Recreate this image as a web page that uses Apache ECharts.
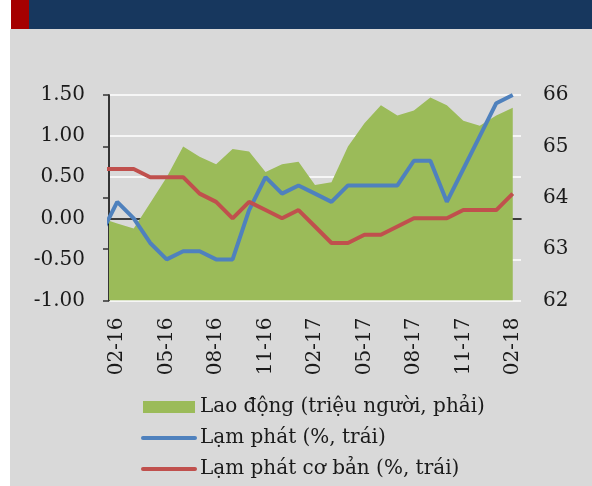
<!DOCTYPE html>
<html>
<head>
<meta charset="utf-8">
<script src="https://cdn.jsdelivr.net/npm/echarts@6/dist/echarts.min.js"></script>
<style>
  html, body { margin: 0; padding: 0; background: #fff; }
  #bg { position: absolute; left: 10px; top: 29px; width: 582px; height: 457px; background: #D9D9D9; }
  #head { position: absolute; left: 11px; top: 0; width: 581px; height: 29px; background: #17375E; }
  #mark { position: absolute; left: 11px; top: 0; width: 18px; height: 29px; background: #A50000; }
  #main { position: absolute; left: 0; top: 0; width: 592px; height: 486px; }
</style>
</head>
<body>
<div id="bg"></div>
<div id="head"></div>
<div id="mark"></div>
<div id="main"></div>
<script>
// months 01-16 .. 02-18 (first one sits half outside the plot, like the original)
var months = ['01-16', '02-16', '03-16', '04-16', '05-16', '06-16', '07-16', '08-16', '09-16',
  '10-16', '11-16', '12-16', '01-17', '02-17', '03-17', '04-17', '05-17', '06-17', '07-17',
  '08-17', '09-17', '10-17', '11-17', '12-17', '01-18', '02-18']
var laoDong = [63.6, 63.5, 63.4, 63.9, 64.4, 65.0, 64.8, 64.65, 64.95, 64.9, 64.5, 64.65, 64.7,
  64.25, 64.3, 65.0, 65.45, 65.8, 65.6, 65.7, 65.95, 65.8, 65.5, 65.4, 65.6, 65.75]
var lamPhat = [-0.2, 0.2, 0.0, -0.3, -0.5, -0.4, -0.4, -0.5, -0.5, 0.1, 0.5, 0.3, 0.4,
  0.3, 0.2, 0.4, 0.4, 0.4, 0.4, 0.7, 0.7, 0.2, 0.6, 1.0, 1.4, 1.5]
var lamPhatCoBan = [0.6, 0.6, 0.6, 0.5, 0.5, 0.5, 0.3, 0.2, 0.0, 0.2, 0.1, 0.0, 0.1,
  -0.1, -0.3, -0.3, -0.2, -0.2, -0.1, 0.0, 0.0, 0.0, 0.1, 0.1, 0.1, 0.3]
var labelMonths = ['02-16', '05-16', '08-16', '11-16', '02-17', '05-17', '08-17', '11-17', '02-18']

var font = 'DejaVu Serif'
var textColor = '#1a1a1a'

// each month is centred in its slot: month i -> i - 0.5
function toPoints(arr) {
  return arr.map(function(v, i) { return [i - 0.5, v] })
}
var tickValues = labelMonths.map(function(m) { return months.indexOf(m) - 0.5 - 0.5 })
var labelValues = labelMonths.map(function(m) { return months.indexOf(m) - 0.5 })

var chart = echarts.init(document.getElementById('main'), null, { renderer: 'canvas' })
chart.setOption({
  animation: false,
  backgroundColor: 'transparent',
  grid: { left: 109, right: 71, top: 95, bottom: 185.5 },
  legend: {
    orient: 'vertical',
    left: 141,
    top: 397,
    padding: 0,
    itemWidth: 52,
    itemHeight: 12,
    itemGap: 11,
    textStyle: { fontFamily: font, fontSize: 20, color: textColor, lineHeight: 20 },
    data: [
      { name: 'Lao động (triệu người, phải)', icon: 'rect' },
      { name: 'Lạm phát (%, trái)', itemStyle: { opacity: 0 }, lineStyle: { width: 4, cap: 'round' } },
      { name: 'Lạm phát cơ bản (%, trái)', itemStyle: { opacity: 0 }, lineStyle: { width: 4, cap: 'round' } }
    ]
  },
  xAxis: [{
    type: 'value',
    min: 0,
    max: 25,
    axisLine: { show: true, onZero: true, lineStyle: { color: '#000', width: 1.5 } },
    axisTick: { show: true, length: 7, customValues: tickValues, lineStyle: { color: '#000', width: 1.5 } },
    axisLabel: { show: false },
    splitLine: { show: false }
  }, {
    type: 'value',
    position: 'bottom',
    min: 0,
    max: 25,
    axisLine: { show: false, onZero: false },
    axisTick: { show: false },
    splitLine: { show: false },
    axisLabel: {
      show: true,
      rotate: 90,
      margin: 17,
      customValues: labelValues,
      fontFamily: font,
      fontSize: 20,
      color: textColor,
      formatter: function(v) { return months[Math.round(v + 0.5)] }
    }
  }],
  yAxis: [{
    type: 'value',
    min: -1,
    max: 1.5,
    interval: 0.5,
    axisLine: { show: true, lineStyle: { color: '#000', width: 1.5 } },
    axisTick: { show: false },
    splitLine: { show: true, lineStyle: { color: '#ffffff', width: 1.5 } },
    axisLabel: {
      margin: 24,
      fontFamily: font,
      fontSize: 20,
      color: textColor,
      formatter: function(v) { return v.toFixed(2) }
    }
  }, {
    type: 'value',
    position: 'right',
    min: 62,
    max: 66,
    interval: 1,
    axisLine: { show: true, lineStyle: { color: '#333', width: 1.5 } },
    axisTick: { show: true, inside: true, length: 6, lineStyle: { color: '#333', width: 1.5 } },
    splitLine: { show: false },
    axisLabel: { margin: 22, fontFamily: font, fontSize: 20, color: textColor }
  }],
  series: [{
    name: 'Lao động (triệu người, phải)',
    type: 'line',
    xAxisIndex: 0,
    yAxisIndex: 1,
    data: toPoints(laoDong),
    symbol: 'none',
    color: '#9BBB59',
    lineStyle: { width: 0 },
    areaStyle: { color: '#9BBB59', opacity: 1, origin: 'start' },
    z: 1
  }, {
    name: 'Lạm phát (%, trái)',
    type: 'line',
    xAxisIndex: 0,
    yAxisIndex: 0,
    data: toPoints(lamPhat),
    symbol: 'none',
    color: '#4F81BD',
    lineStyle: { width: 4, color: '#4F81BD' },
    z: 3
  }, {
    name: 'Lạm phát cơ bản (%, trái)',
    type: 'line',
    xAxisIndex: 0,
    yAxisIndex: 0,
    data: toPoints(lamPhatCoBan),
    symbol: 'none',
    color: '#C0504D',
    lineStyle: { width: 4, color: '#C0504D' },
    z: 3
  }]
})
</script>
</body>
</html>
